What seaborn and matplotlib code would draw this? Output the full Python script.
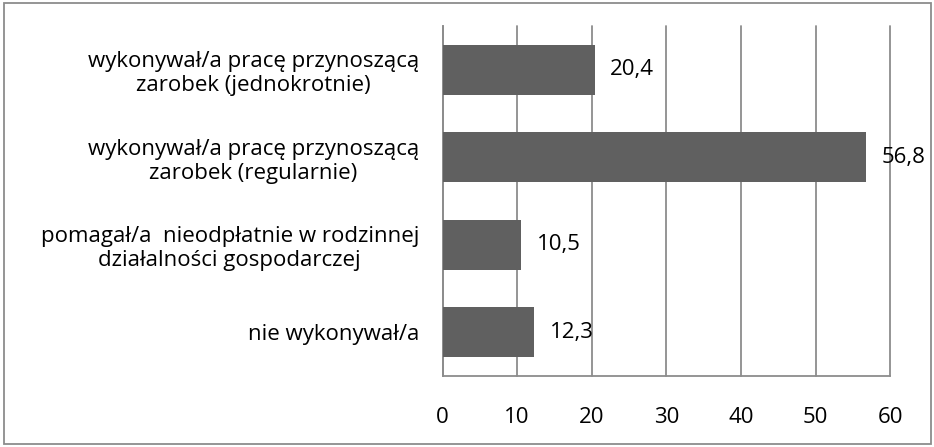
import matplotlib
matplotlib.use("Agg")
import matplotlib.pyplot as plt
import seaborn as sns
import pandas as pd

categories = [
    "wykonywał/a pracę przynoszącą\nzarobek (jednokrotnie)",
    "wykonywał/a pracę przynoszącą\nzarobek (regularnie)",
    "pomagał/a  nieodpłatnie w rodzinnej\ndziałalności gospodarczej",
    "nie wykonywał/a",
]
values = [20.4, 56.8, 10.5, 12.3]
x_ticks = [0, 10, 20, 30, 40, 50, 60]

df = pd.DataFrame({"cat": categories, "val": values})

sns.set_theme(style="white")
plt.rcParams["font.family"] = ["Open Sans", "DejaVu Sans"]

FS = 16

fig = plt.figure(figsize=(9.34, 4.47), dpi=100)
ax = fig.add_axes([0.4738, 0.1588, 0.953 - 0.4738, 0.9418 - 0.1588])

sns.barplot(data=df, y="cat", x="val", orient="h", color="#606060",
            saturation=1, width=0.57, ax=ax, zorder=3, linewidth=0)

ax.set_xlim(0, 60)
ax.set_xticks(x_ticks)
ax.set_xticklabels([str(t) for t in x_ticks])
ax.grid(axis="x", color="#8c8c8c", linewidth=1.3, zorder=0)
for gl in ax.get_xgridlines():
    gl.set_clip_on(False)
ax.set_axisbelow(True)
for s in ["top", "right"]:
    ax.spines[s].set_visible(False)
for s in ["left", "bottom"]:
    ax.spines[s].set_color("#8c8c8c")
    ax.spines[s].set_linewidth(1.3)
ax.tick_params(axis="x", length=0, pad=22, labelsize=FS, colors="black")
ax.tick_params(axis="y", length=0, pad=17, labelsize=FS, colors="black")
for lab in ax.get_yticklabels():
    lab.set_multialignment("center")
    lab.set_linespacing(1.2)
ax.set_xlabel("")
ax.set_ylabel("")

for i, v in enumerate(values):
    ax.text(v + 2.1, i, f"{v:.1f}".replace(".", ","), va="center", ha="left",
            fontsize=FS, color="black")

border = plt.Rectangle((0.004, 0.006), 0.993, 0.988, transform=fig.transFigure,
                       fill=False, edgecolor="#8c8c8c", linewidth=1.3)
fig.patches.append(border)

fig.savefig("out.png", dpi=100)
